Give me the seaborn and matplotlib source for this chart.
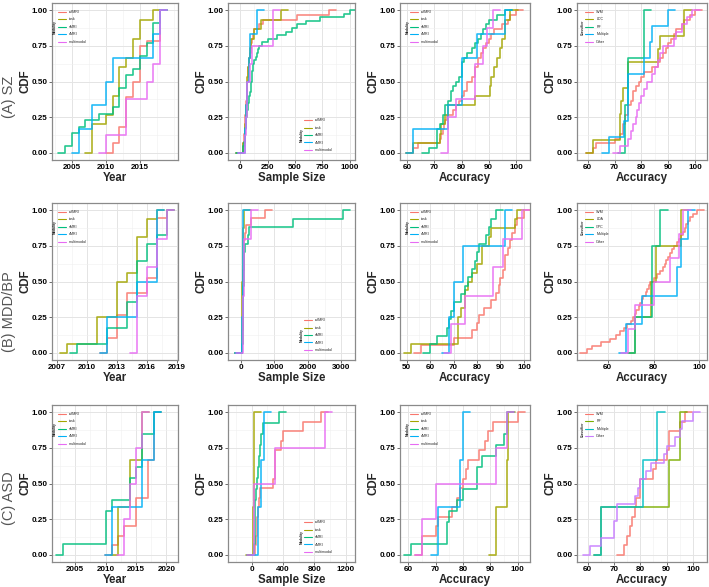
import numpy as np
import pandas as pd
import matplotlib
matplotlib.use("Agg")
import matplotlib.pyplot as plt
import seaborn as sns
from matplotlib.ticker import AutoMinorLocator, FixedLocator

sns.set_theme(style="white")
plt.rcParams['font.family'] = ['Liberation Sans', 'DejaVu Sans']

# ---------------- categories / colours ----------------
MODALITIES = ["rsfMRI", "task", "sMRI", "dMRI", "multimodal"]
MOD_COLORS = ["#F8766D", "#A3A500", "#00BF7D", "#00B0F6", "#E76BF3"]
CLS_SZ = ["SVM", "LDC", "RF", "Multiple", "Other"]
CLS_MDD = ["SVM", "LDA", "GPC", "Multiple", "Other"]
CLS_ASD = ["SVM", "RF", "Multiple", "Other"]
CLS_ASD_COLORS = ["#F8766D", "#7CAE00", "#00BFC4", "#C77CFF"]
ROW_LABELS = ["(A) SZ", "(B) MDD/BP", "(C) ASD"]

# ---------------- SZ ----------------
sz_year_rsfmri = [2011, 2011, 2012, 2012, 2012, 2013, 2013, 2013, 2013, 2013, 2013,
                  2014, 2014, 2014, 2015, 2015, 2015, 2015, 2015, 2015, 2015, 2016,
                  2018, 2018, 2018, 2018, 2018, 2018]
sz_year_task = [2008, 2008, 2008, 2010, 2011, 2011, 2012, 2012, 2012, 2013, 2014, 2014,
                2015, 2015, 2017]
sz_year_smri = [2004, 2005, 2005, 2006, 2007, 2009, 2011, 2012, 2012, 2012, 2013, 2013,
                2014, 2015, 2015, 2016, 2016, 2017, 2017, 2017, 2018, 2018]
sz_year_dmri = [2006, 2008, 2010, 2011, 2017, 2018]
sz_year_multi = [2010, 2013, 2013, 2016, 2017, 2018, 2018, 2018]

sz_size_rsfmri = [25, 30, 33, 36, 40, 42, 45, 48, 50, 52, 55, 58, 60, 62, 65, 68, 70, 75,
                  80, 85, 90, 95, 100, 110, 115, 130, 170, 205, 520, 807]
sz_size_task = [30, 40, 45, 50, 55, 58, 60, 60, 70, 80, 90, 100, 130, 190, 370]
sz_size_smri = [25, 30, 35, 40, 42, 45, 48, 50, 52, 55, 60, 65, 70, 75, 80, 85, 90, 95,
                98, 100, 104, 108, 112, 115, 120, 130, 140, 150, 160, 175, 200, 250, 340,
                420, 470, 520, 600, 730, 950, 1000]
sz_size_dmri = [40, 55, 60, 80, 90, 150]
sz_size_multi = [40, 50, 60, 65, 90, 110, 300, 300]

sz_acc_rsfmri = [62, 64, 72, 72.5, 73, 73.5, 74, 74.5, 77, 78, 79, 80, 81, 82, 82, 84, 85,
                 85, 86, 86, 87, 88, 89, 90, 91, 92, 95, 97, 98, 100]
sz_acc_task = [62, 72, 72.5, 74, 75, 85, 90.5, 91, 92, 93, 94, 95, 96, 96, 98]
sz_acc_smri = [68, 71, 71, 71, 71, 72, 73, 73, 74, 74, 75, 76, 76, 77, 78, 79, 80, 80, 80,
               81, 82, 84, 85, 86, 87, 88, 89, 90, 93, 96]
sz_acc_dmri = [62, 75, 80, 80, 85.5, 96]
sz_acc_multi = [75, 75, 78, 85, 85, 88, 89.5, 91.5]

sz_cls_svm = [62, 63, 70, 72, 73, 73, 74, 74, 75, 75, 76, 77, 77, 78, 79, 80, 81, 84, 86,
              87, 88, 89, 90, 91, 92, 93, 95, 96, 98, 100]
sz_cls_ldc = [62, 72, 72, 72.5, 73, 75, 75, 86, 87, 96, 96]
sz_cls_rf = [74, 75, 81]
sz_cls_multiple = [68, 73.5, 75, 75, 75, 81, 83, 84, 90]
sz_cls_other = [72, 75, 76, 77, 78, 78.5, 79, 80, 81, 82, 84, 85, 86, 87, 88, 92, 93, 95,
                97, 99]

# ---------------- MDD/BP ----------------
mdd_year_rsfmri = [2012, 2012, 2013, 2013, 2013, 2014, 2014, 2014, 2016, 2016, 2017, 2017,
                   2017, 2017, 2017, 2017, 2017, 2017, 2018]
mdd_year_task = [2008, 2011, 2011, 2011, 2013, 2013, 2013, 2013, 2014, 2015, 2015, 2015,
                 2015, 2016, 2016, 2017]
mdd_year_smri = [2009, 2012, 2012, 2014, 2014, 2014, 2015, 2015, 2015, 2015, 2015, 2016,
                 2016, 2017, 2018, 2018, 2018]
mdd_year_dmri = [2012, 2015, 2017, 2017]
mdd_year_multi = [2015, 2015, 2016, 2017, 2018]

mdd_size_rsfmri = [30, 35, 40, 45, 50, 55, 60, 62, 65, 68, 70, 75, 80, 85, 90, 110, 140,
                   300, 730]
mdd_size_task = [20, 25, 30, 32, 35, 38, 40, 42, 45, 48, 50, 55, 60, 70, 90, 100]
mdd_size_smri = [40, 45, 50, 55, 60, 62, 65, 70, 75, 80, 85, 90, 110, 200, 250, 1550, 3050]
mdd_size_dmri = [40, 50, 60, 65]
mdd_size_multi = [50, 60, 80, 100, 290]

mdd_acc_rsfmri = [56, 70, 78, 80, 81, 83, 86, 88, 89.5, 90, 91, 92, 92, 93, 94, 95, 96, 97,
                  100]
mdd_acc_task = [52, 72, 72, 72, 73, 75, 75, 76, 78, 80, 82, 82, 85, 86, 96, 97]
mdd_acc_smri = [60, 63, 67, 68, 69, 70, 73, 75, 76, 78, 79, 80, 81, 84, 85, 86, 88]
mdd_acc_dmri = [68, 70, 74, 92]
mdd_acc_multi = [69, 75, 87, 91, 99]

mdd_cls_svm = [51, 53, 57, 61, 63.5, 65.5, 67, 68.5, 70, 71, 72, 72.5, 73.5, 74, 75, 75.5,
               76.5, 77, 78, 78.5, 80, 81.5, 83, 84, 85, 85.5, 86.5, 87, 88, 89, 90, 91,
               92, 93, 93.5, 94, 95, 96, 97, 99]
mdd_cls_lda = [72, 79, 81, 92]
mdd_cls_gpc = [72, 79.5, 79.5, 83]
mdd_cls_multiple = [68, 75, 90, 92, 95]
mdd_cls_other = [69, 72, 80, 87, 91, 93]

# ---------------- ASD ----------------
asd_year_rsfmri = [2011, 2012, 2013, 2015, 2015, 2015, 2017, 2017, 2017, 2017, 2018, 2018,
                   2018, 2018, 2018]
asd_year_task = [2012, 2014, 2016]
asd_year_smri = [2003, 2010, 2010, 2010, 2011, 2014, 2014, 2015, 2016, 2016, 2016, 2018,
                 2018]
asd_year_dmri = [2011, 2016, 2018]
asd_year_multi = [2013, 2014, 2015, 2016]

asd_size_rsfmri = [40, 50, 60, 70, 80, 90, 100, 270, 290, 290, 290, 370, 400, 650, 880]
asd_size_task = [20, 25, 30]
asd_size_smri = [30, 35, 40, 42, 45, 50, 60, 80, 90, 100, 120, 140, 345]
asd_size_dmri = [75, 120, 160]
asd_size_multi = [30, 30, 290, 940]

asd_acc_rsfmri = [65, 65, 70, 71, 76, 78, 79, 80, 81, 82, 86, 88, 89, 91, 100]
asd_acc_task = [92, 96, 96.5]
asd_acc_smri = [61, 74, 74, 75, 78, 80, 85, 85, 87, 92, 95, 96, 96]
asd_acc_dmri = [71, 79, 80]
asd_acc_multi = [65, 70, 92, 96]

asd_cls_svm = [74, 75, 76, 77, 78, 78.5, 80, 80, 85, 86, 90, 91, 91, 95, 97]
asd_cls_rf = [65, 91, 95]
asd_cls_multiple = [65, 81, 86.5]
asd_cls_other = [61, 65, 70, 70, 71, 71, 78, 79, 80, 82, 84, 89, 90, 93, 95, 96, 100]

# ---------------- panel specs ----------------
panels = [
    # row 0 : SZ
    dict(groups=[sz_year_rsfmri, sz_year_task, sz_year_smri, sz_year_dmri, sz_year_multi],
         names=MODALITIES, colors=MOD_COLORS, xlabel="Year", title="Modality",
         xticks=[2005, 2010, 2015], xlim=(2002.1, 2020.6), leg="ul", legx=0.045),
    dict(groups=[sz_size_rsfmri, sz_size_task, sz_size_smri, sz_size_dmri, sz_size_multi],
         names=MODALITIES, colors=MOD_COLORS, xlabel="Sample Size", title="Modality",
         xticks=[0, 250, 500, 750, 1000], xlim=(-111, 1048), leg="lr", legx=0.6),
    dict(groups=[sz_acc_rsfmri, sz_acc_task, sz_acc_smri, sz_acc_dmri, sz_acc_multi],
         names=MODALITIES, colors=MOD_COLORS, xlabel="Accuracy", title="Modality",
         xticks=[60, 70, 80, 90, 100], xlim=(57.3, 105.2), leg="ul", legx=0.08),
    dict(groups=[sz_cls_svm, sz_cls_ldc, sz_cls_rf, sz_cls_multiple, sz_cls_other],
         names=CLS_SZ, colors=MOD_COLORS, xlabel="Accuracy", title="Classifier",
         xticks=[60, 70, 80, 90, 100], xlim=(56.0, 104.4), leg="ul", legx=0.065),
    # row 1 : MDD/BP
    dict(groups=[mdd_year_rsfmri, mdd_year_task, mdd_year_smri, mdd_year_dmri, mdd_year_multi],
         names=MODALITIES, colors=MOD_COLORS, xlabel="Year", title="Modality",
         xticks=[2007, 2010, 2013, 2016, 2019], xlim=(2006.5, 2019.1), leg="ul", legx=0.045),
    dict(groups=[mdd_size_rsfmri, mdd_size_task, mdd_size_smri, mdd_size_dmri, mdd_size_multi],
         names=MODALITIES, colors=MOD_COLORS, xlabel="Sample Size", title="Modality",
         xticks=[0, 1000, 2000, 3000], xlim=(-390, 3410), leg="lr", legx=0.6),
    dict(groups=[mdd_acc_rsfmri, mdd_acc_task, mdd_acc_smri, mdd_acc_dmri, mdd_acc_multi],
         names=MODALITIES, colors=MOD_COLORS, xlabel="Accuracy", title="Modality",
         xticks=[50, 60, 70, 80, 90, 100], xlim=(47.1, 102.6), leg="ul", legx=0.08),
    dict(groups=[mdd_cls_svm, mdd_cls_lda, mdd_cls_gpc, mdd_cls_multiple, mdd_cls_other],
         names=CLS_MDD, colors=MOD_COLORS, xlabel="Accuracy", title="Classifier",
         xticks=[60, 80, 100], xlim=(46.6, 103.3), leg="ul", legx=0.065),
    # row 2 : ASD
    dict(groups=[asd_year_rsfmri, asd_year_task, asd_year_smri, asd_year_dmri, asd_year_multi],
         names=MODALITIES, colors=MOD_COLORS, xlabel="Year", title="Modality",
         xticks=[2005, 2010, 2015, 2020], xlim=(2001.2, 2021.9), leg="ul", legx=0.045),
    dict(groups=[asd_size_rsfmri, asd_size_task, asd_size_smri, asd_size_dmri, asd_size_multi],
         names=MODALITIES, colors=MOD_COLORS, xlabel="Sample Size", title="Modality",
         xticks=[0, 400, 800, 1200], xlim=(-304, 1317), leg="lr", legx=0.6),
    dict(groups=[asd_acc_rsfmri, asd_acc_task, asd_acc_smri, asd_acc_dmri, asd_acc_multi],
         names=MODALITIES, colors=MOD_COLORS, xlabel="Accuracy", title="Modality",
         xticks=[60, 70, 80, 90, 100], xlim=(57.0, 104.5), leg="ul", legx=0.08),
    dict(groups=[asd_cls_svm, asd_cls_rf, asd_cls_multiple, asd_cls_other],
         names=CLS_ASD, colors=CLS_ASD_COLORS, xlabel="Accuracy", title="Classifier",
         xticks=[60, 70, 80, 90, 100], xlim=(56.0, 105.3), leg="ul", legx=0.065),
]


def ecdf_frame(groups, names, pad):
    parts = []
    for name, vals in zip(names, groups):
        xs, cnt = np.unique(np.asarray(vals, float), return_counts=True)
        cdf = np.cumsum(cnt) / cnt.sum()
        x = np.r_[xs[0] - pad, xs, xs[-1] + pad]
        y = np.r_[0.0, cdf, 1.0]
        parts.append(pd.DataFrame({"x": x, "CDF": y, "group": name}))
    return pd.concat(parts, ignore_index=True)


W, H = 709, 587
fig = plt.figure(figsize=(W / 100, H / 100), dpi=100)

col_x = [(52, 178), (228, 355), (400, 530), (577, 707)]
row_y = [(3, 160), (203, 360), (405, 562)]
row_label_y = [97, 312, 498]

for i, p in enumerate(panels):
    r, c = divmod(i, 4)
    x0, x1 = col_x[c]
    y0, y1 = row_y[r]
    ax = fig.add_axes([x0 / W, 1 - y1 / H, (x1 - x0) / W, (y1 - y0) / H])
    span = p["xlim"][1] - p["xlim"][0]
    df = ecdf_frame(p["groups"], p["names"], pad=0.055 * span)
    sns.lineplot(data=df, x="x", y="CDF", hue="group", hue_order=p["names"],
                 palette=p["colors"], estimator=None, sort=False,
                 drawstyle="steps-post", lw=1.2, alpha=0.85, ax=ax)
    ax.set_xlim(*p["xlim"])
    ax.set_ylim(-0.05, 1.05)
    ax.xaxis.set_major_locator(FixedLocator(p["xticks"]))
    ax.yaxis.set_major_locator(FixedLocator([0, 0.25, 0.5, 0.75, 1.0]))
    ax.set_yticklabels(["0.00", "0.25", "0.50", "0.75", "1.00"])
    ax.xaxis.set_minor_locator(AutoMinorLocator(2))
    ax.yaxis.set_minor_locator(AutoMinorLocator(2))
    ax.set_axisbelow(True)
    ax.grid(which="major", color="#e4e4e4", lw=0.7)
    ax.grid(which="minor", color="#efefef", lw=0.4)
    for s in ax.spines.values():
        s.set_color("#8a8a8a")
        s.set_linewidth(0.9)
    ax.tick_params(which="major", length=2, width=0.5, color="#333333", pad=1,
                   labelsize=5.8, labelcolor="black", bottom=True, left=True)
    ax.tick_params(which="minor", length=0)
    for lab in ax.get_xticklabels() + ax.get_yticklabels():
        lab.set_fontweight("bold")
    ax.set_xlabel(p["xlabel"], fontsize=8.3, fontweight="bold", labelpad=0.5)
    ax.set_ylabel("CDF", fontsize=8.3, fontweight="bold", labelpad=0)

    # legend (ggplot-like, vertical title on the left)
    handles, labels = ax.get_legend_handles_labels()
    if ax.get_legend() is not None:
        ax.get_legend().remove()
    if p["leg"] == "ul":
        ly = 0.955
        leg = ax.legend(handles, labels, loc="upper left", bbox_to_anchor=(p["legx"], ly),
                        fontsize=2.6, frameon=False, handlelength=2.2, handletextpad=0.8,
                        labelspacing=0.95, borderpad=0, borderaxespad=0)
        ty = ly - 0.11
    else:
        ly = 0.05
        leg = ax.legend(handles, labels, loc="lower left", bbox_to_anchor=(p["legx"], ly),
                        fontsize=2.6, frameon=False, handlelength=2.2, handletextpad=0.8,
                        labelspacing=0.95, borderpad=0, borderaxespad=0)
        ty = ly + 0.11
    for h in leg.get_lines():
        h.set_linewidth(0.8)
        h.set_alpha(1)
    ax.text(p["legx"] - 0.022, ty, p["title"], rotation=90, fontsize=2.4,
            fontweight="bold", transform=ax.transAxes, ha="center", va="center")

for r, lab in enumerate(ROW_LABELS):
    fig.text(9 / W, 1 - row_label_y[r] / H, lab, rotation=90, color="#555555",
             fontsize=10.5, ha="center", va="center")

fig.savefig("out.png", dpi=100, facecolor="white")
